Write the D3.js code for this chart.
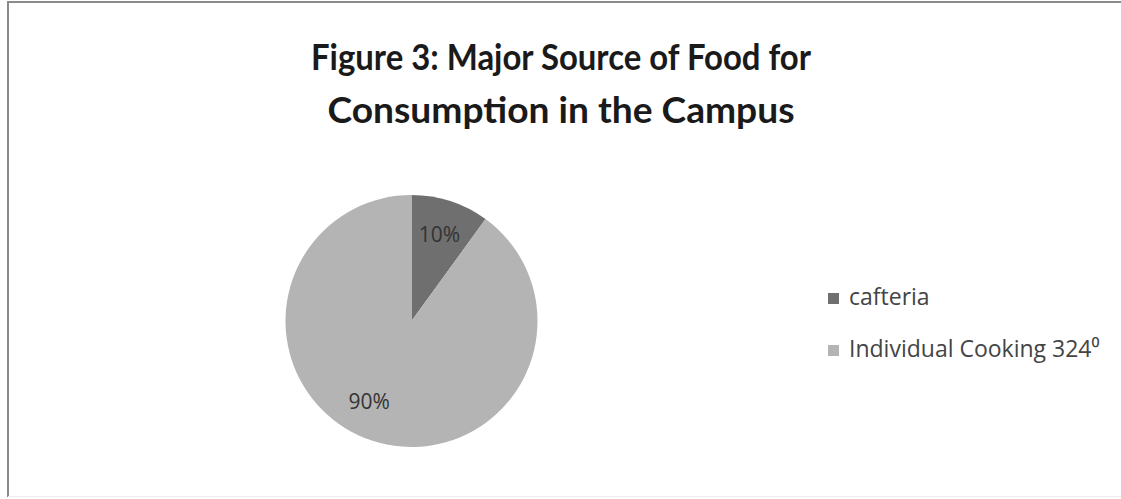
<!DOCTYPE html>
<html>
<head>
<meta charset="utf-8">
<script src="https://cdn.jsdelivr.net/npm/d3@7"></script>
<style>
  html, body { margin: 0; padding: 0; background: #fff; }
  svg { display: block; }
</style>
</head>
<body>
<svg id="chart" width="1121" height="499"></svg>
<script>
// Food source shares (percent of respondents)
const categories = ["cafteria", "Individual Cooking 324⁰"];
const values = [10, 90];
const sliceLabels = ["10%", "90%"];
const colors = ["#6f6f6f", "#b4b4b4"];
const titleLines = ["Figure 3: Major Source of Food for", "Consumption in the Campus"];

const svg = d3.select("#chart");
const W = 1121, H = 499;
const font = "'Open Sans', 'Noto Sans', sans-serif";

// chart frame
svg.append("line").attr("x1", 8).attr("x2", W).attr("y1", 2).attr("y2", 2)
  .attr("stroke", "#8a8a8a").attr("stroke-width", 2);
svg.append("line").attr("x1", 8).attr("x2", 8).attr("y1", 1).attr("y2", H - 2)
  .attr("stroke", "#8a8a8a").attr("stroke-width", 2);
svg.append("line").attr("x1", 8).attr("x2", W).attr("y1", H - 2.5).attr("y2", H - 2.5)
  .attr("stroke", "#ececec").attr("stroke-width", 1);

// title, two centred lines fitted to a fixed width
const titleWidths = [500, 467];
svg.append("g").selectAll("text").data(titleLines).join("text")
  .attr("x", 561).attr("y", (d, i) => 70 + i * 53)
  .attr("text-anchor", "middle")
  .attr("font-family", "Lato, 'Open Sans', sans-serif")
  .attr("font-weight", "bold").attr("font-size", 36)
  .attr("fill", "#1a1a1a")
  .attr("textLength", (d, i) => titleWidths[i])
  .attr("lengthAdjust", "spacingAndGlyphs")
  .text(d => d);

// pie
const cx = 411.5, cy = 321, r = 126;
const pie = d3.pie().sort(null).value(d => d)(values);
const arc = d3.arc().innerRadius(0).outerRadius(r);
const g = svg.append("g").attr("transform", `translate(${cx},${cy})`);
g.selectAll("path").data(pie).join("path")
  .attr("d", arc)
  .attr("fill", (d, i) => colors[i]);

// slice labels, placed inside each slice near its middle angle
const labelR = r * 0.72;
const angleShift = [0, 0.17];
g.selectAll("text").data(pie).join("text")
  .attr("transform", (d, i) => {
    const a = (d.startAngle + d.endAngle) / 2 + angleShift[i];
    return `translate(${labelR * Math.sin(a)},${-labelR * Math.cos(a)})`;
  })
  .attr("text-anchor", "middle").attr("dy", "0.35em")
  .attr("font-family", font)
  .attr("font-size", 21).attr("fill", "#333")
  .text((d, i) => sliceLabels[i]);

// legend
const legend = svg.append("g").attr("transform", "translate(828,305)");
const rows = legend.selectAll("g").data(categories).join("g")
  .attr("transform", (d, i) => `translate(0,${i * 52})`);
rows.append("rect").attr("x", 0).attr("y", -12).attr("width", 11).attr("height", 11)
  .attr("fill", (d, i) => colors[i]);
rows.append("text").attr("x", 21).attr("y", 0)
  .attr("font-family", font)
  .attr("font-size", 23).attr("fill", "#444")
  .text(d => d);
</script>
</body>
</html>
